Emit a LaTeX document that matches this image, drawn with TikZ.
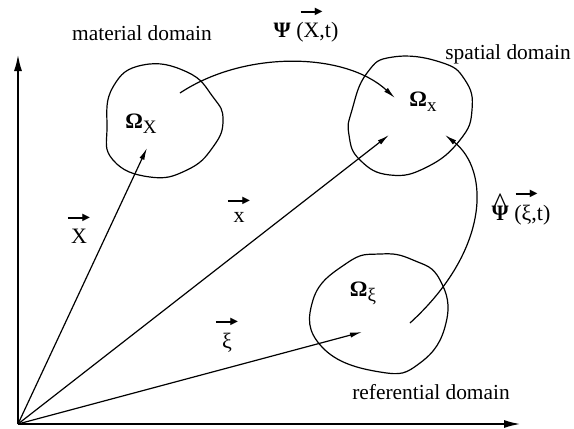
\documentclass[tikz,border=0pt]{standalone}
\usepackage{fontspec}
\setmainfont{Liberation Serif}
\newfontfamily\symfont{DejaVu Sans}
\usepackage{tikz}
\usetikzlibrary{arrows.meta}
\tikzset{
  >=Latex,
  every node/.style={font=\fontsize{11}{13}\selectfont,inner sep=0pt},
  axis/.style={-{Latex[length=8pt,width=4pt]},line width=0.7pt},
  posvec/.style={-{Latex[length=6pt,width=2.6pt]},line width=0.6pt},
  mapping/.style={-{Latex[length=6pt,width=2.6pt]},line width=0.6pt},
  region/.style={line width=0.6pt},
  dname/.style={font=\fontsize{10.7}{12}\selectfont}
}
% short arrow with a filled head, put over a letter
\newcommand{\harrow}{$\vcenter{\hbox{\rule{9pt}{0.8pt}}}\mkern-3mu\vcenter{\hbox{\symfont\fontsize{5}{5}\selectfont ▶}}$}
\newcommand{\vecx}[1]{\leavevmode\setbox0\hbox{#1}\vbox{\offinterlineskip\hbox to\wd0{\hss\harrow\hss}\kern2.6pt\box0\relax}}
% caret set high over a letter
\newcommand{\hatx}[1]{\leavevmode\setbox0\hbox{#1}\rlap{\hbox to\wd0{\hss\raisebox{3.5pt}{\fontsize{15}{15}\selectfont\^{}}\hss}}\box0\relax}
\newcommand{\subx}[1]{\raisebox{-0.5ex}{\fontsize{9.5}{10}\selectfont #1}}

\begin{document}
\begin{tikzpicture}[x=0.5pt,y=-0.5pt]
  \useasboundingbox (0,0) rectangle (574,429);

  % axes
  \coordinate (o) at (18,424);
  \coordinate (ytip) at (18,55);
  \coordinate (xtip) at (520,424);
  \draw[axis] (o) -- (ytip);
  \draw[axis] (o) -- (xtip);

  % the three domains
  \draw[region] plot[smooth cycle,tension=0.8] coordinates
    {(113,87) (143,65) (187,72) (213,97) (223,120) (213,147) (187,170) (150,177) (113,160) (107,127)};
  \draw[region] plot[smooth cycle,tension=0.8] coordinates
    {(393,57) (367,73) (352,110) (349,135) (360,160) (390,175) (427,167) (460,140) (472,110) (465,80) (440,62)};
  \draw[region] plot[smooth cycle,tension=0.8] coordinates
    {(380,254) (347,263) (313,300) (322,347) (380,372) (420,363) (446,323) (440,280) (413,260)};

  \node[dname] (matlbl) at (142,33) {material domain};
  \node[dname] (spalbl) at (508,54) {spatial domain};
  \node[dname] (reflbl) at (431,392) {referential domain};

  \node (omX) at (141,124) {\textbf{Ω}\subx{X}};
  \node (omx) at (423,102) {\textbf{Ω}\subx{x}};
  \node (omxi) at (363,293) {\textbf{Ω}\subx{ξ}};

  % position vectors
  \coordinate (tipX) at (147,148);
  \coordinate (tipx) at (389,135);
  \coordinate (tipxi) at (362,332);
  \draw[posvec] (o) -- (tipX);
  \draw[posvec] (o) -- (tipx);
  \draw[posvec] (o) -- (tipxi);
  \node[anchor=base] (lX) at (79,243) {\vecx{X}};
  \node[anchor=base] (lx) at (239,222) {\vecx{x}};
  \node[anchor=base] (lxi) at (227,348) {\vecx{ξ}};

  % mappings
  \coordinate (psiA) at (180,93);
  \coordinate (psiB) at (395,98);
  \draw[mapping] (psiA) .. controls (245,50) and (345,52) .. (psiB);
  \node[anchor=base] (psilbl) at (306,37) {\textbf{Ψ} (\vecx{X},t)};

  \coordinate (hatA) at (410,323);
  \coordinate (hatB) at (445,135);
  \draw[mapping] (hatA) .. controls (490,250) and (490,170) .. (hatB);
  \node[anchor=base] (psihat) at (521,220) {\hatx{\textbf{Ψ}} (\vecx{ξ},t)};
\end{tikzpicture}
\end{document}
